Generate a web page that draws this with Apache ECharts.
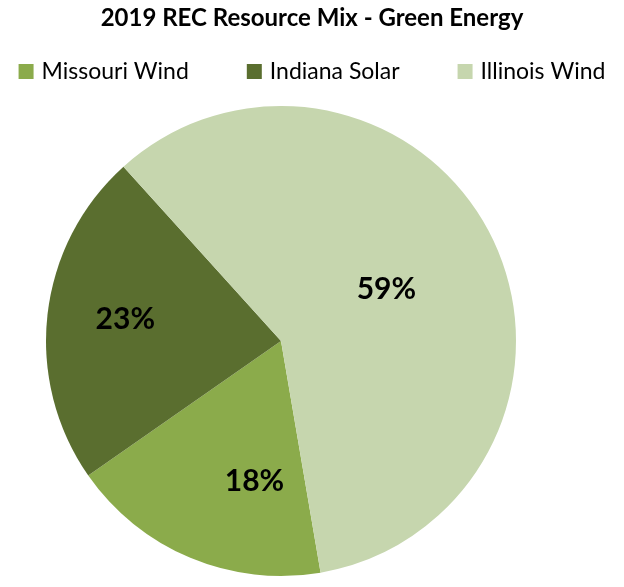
<!DOCTYPE html>
<html>
<head>
<meta charset="utf-8">
<script src="https://cdn.jsdelivr.net/npm/echarts@6/dist/echarts.min.js"></script>
<style>
html,body{margin:0;padding:0;background:#fff;}
#chart{width:624px;height:587px;}
</style>
</head>
<body>
<div id="chart"></div>
<script>
var categories = ['Missouri Wind', 'Indiana Solar', 'Illinois Wind'];
var shares = [18, 23, 59];
var colors = ['#8BAB4B', '#5A6E2F', '#C6D6AE'];
var labelNudge = [[20, 29], [-36, -8], [-3, 1]];

var chart = echarts.init(document.getElementById('chart'));
var fontFam = 'Lato, "Open Sans", sans-serif';
chart.setOption({
  animation: false,
  color: colors,
  title: {
    text: '2019 REC Resource Mix - Green Energy',
    left: 'center',
    top: 1,
    textStyle: { fontFamily: fontFam, fontSize: 24, fontWeight: 'bold', color: '#000' }
  },
  legend: {
    data: categories,
    top: 55,
    left: 'center',
    icon: 'rect',
    itemWidth: 15,
    itemHeight: 15,
    itemGap: 58,
    textStyle: { fontFamily: fontFam, fontSize: 23, color: '#000', padding: [0, 0, 0, 3] }
  },
  series: [{
    type: 'pie',
    center: [281, 341],
    radius: 235,
    startAngle: -80.3,
    clockwise: true,
    silent: true,
    label: {
      show: true,
      position: 'inside',
      formatter: '{c}%',
      fontFamily: fontFam,
      fontSize: 30,
      fontWeight: 'bold',
      color: '#000'
    },
    labelLine: { show: false },
    labelLayout: function (p) {
      var n = labelNudge[p.dataIndex];
      return { dx: n[0], dy: n[1] };
    },
    itemStyle: { borderWidth: 0 },
    data: categories.map(function (c, i) { return { name: c, value: shares[i] }; })
  }]
});
</script>
</body>
</html>
